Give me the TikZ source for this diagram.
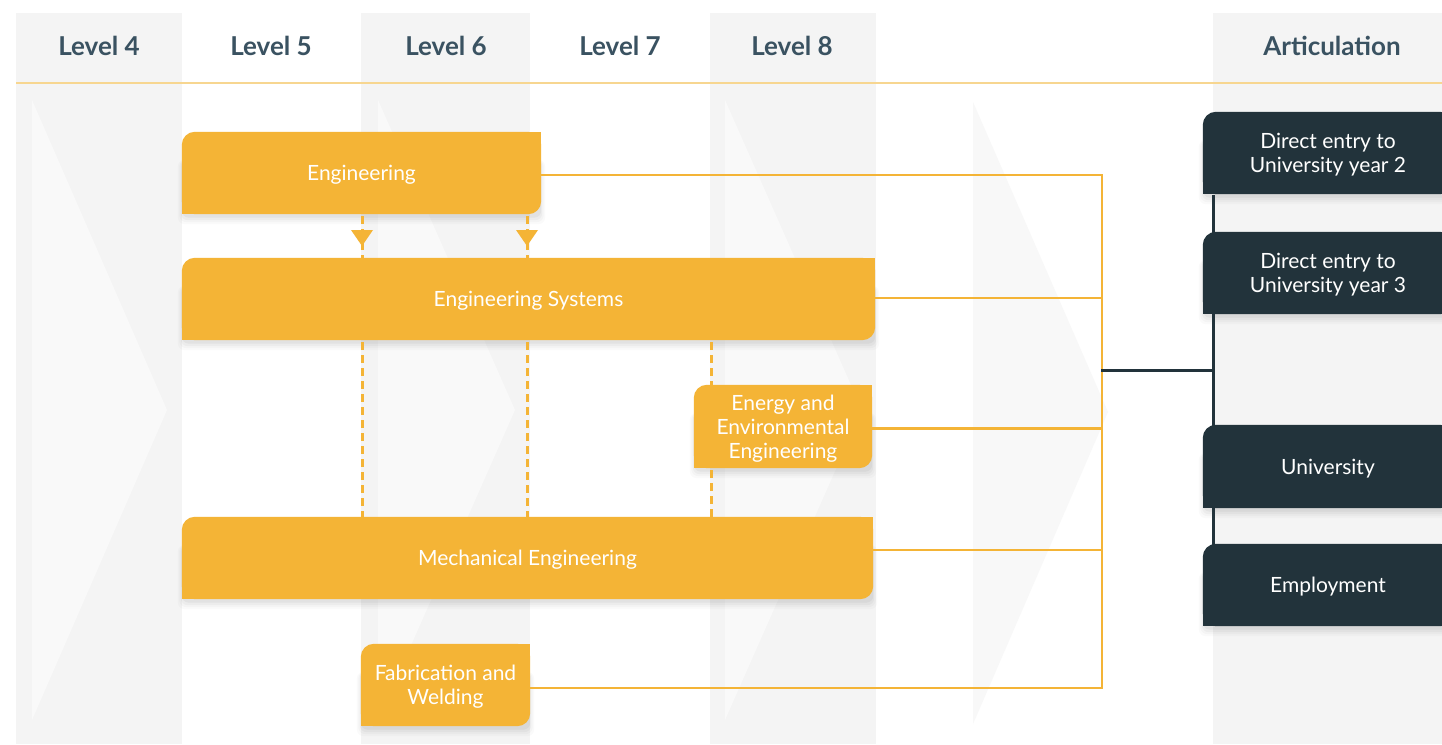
\documentclass[tikz,border=0pt]{standalone}
\usepackage{fontspec}
\setmainfont{Lato}
\usetikzlibrary{calc,decorations.markings}
\definecolor{ycol}{HTML}{F4B436}
\definecolor{dcol}{HTML}{22333B}
\definecolor{band}{HTML}{F4F4F4}
\definecolor{chev}{HTML}{F9F9F9}
\definecolor{chevw}{HTML}{F8F8F8}
\definecolor{hcol}{HTML}{3A5261}
\definecolor{hline}{HTML}{F7D690}
\pgfdeclarelayer{back}
\pgfdeclarelayer{boxes}
\pgfsetlayers{back,boxes,main}
% box: top-left and bottom-right corners rounded, the other two square;
% the box sits 2px above the node so that the text is 2px below its centre
\newcommand\boxfill[2]{%
  \fill[#2, rounded corners=13pt] ($(#1.south west)+(0pt,2pt)$) rectangle ($(#1.north east)+(0pt,2pt)$);
  \fill[#2] ($(#1.south west)+(0pt,2pt)$) rectangle ($(#1.south west)+(16pt,18pt)$);
  \fill[#2] ($(#1.north east)+(0pt,2pt)$) rectangle ($(#1.north east)+(-16pt,-14pt)$);}
\newcommand\shadowfill[4]{% node, grow, drop, opacity
  \fill[black, opacity=#4, rounded corners=7pt] ($(#1.north west)+(-#2,-26pt)$) rectangle ($(#1.south east)+(#2,2pt-#3)$);}
\newcommand\boxshape[2]{%
  \begin{pgfonlayer}{boxes}
  \shadowfill{#1}{4pt}{10pt}{0.018}
  \shadowfill{#1}{2.5pt}{8pt}{0.025}
  \shadowfill{#1}{1pt}{6pt}{0.03}
  \shadowfill{#1}{0pt}{3.5pt}{0.04}
  \boxfill{#1}{#2}
  \end{pgfonlayer}}
\tikzset{
  boxtext/.style={text=white, font=\fontsize{21}{24}\selectfont, align=center, inner sep=0pt},
  hdr/.style={text=hcol, font=\fontsize{26}{30}\selectfont\bfseries, anchor=base},
  yline/.style={ycol, line width=2.6pt, line cap=rect},
  dline/.style={dcol, line width=3pt, line cap=rect},
  dashline/.style={ycol, line width=3pt, dash pattern=on 8pt off 5pt},
  midarrow/.style={postaction={decorate}, decoration={markings,
    mark=at position 0.5 with {\fill[ycol] (8pt,0pt) -- (-8pt,11pt) -- (-8pt,-11pt) -- cycle;}}}
}
\begin{document}
\begin{tikzpicture}[x=1pt,y=-1pt]
\useasboundingbox (0,0) rectangle (1442,744);
\begin{pgfonlayer}{back}
  \fill[white] (0,0) rectangle (1442,744);
  \fill[band] (16,13) rectangle (182,744);
  \fill[band] (361,13) rectangle (530,744);
  \fill[band] (710,13) rectangle (876,744);
  \fill[band] (1213,13) rectangle (1442,744);
  \fill[chev] (32,100) -- (167,410) -- (32,720) -- cycle;
  \fill[chev] (378,100) -- (515,410) -- (378,720) -- cycle;
  \fill[chev] (725,100) -- (862,410) -- (725,720) -- cycle;
  \fill[chevw] (973,102) -- (1108,412) -- (973,724) -- cycle;
  \draw[hline, line width=1.2pt] (16,83) -- (1442,83);
\end{pgfonlayer}
% headers
\node[hdr] (h4) at (99,55) {Level 4};
\node[hdr] (h5) at (271,55) {Level 5};
\node[hdr] (h6) at (446,55) {Level 6};
\node[hdr] (h7) at (620,55) {Level 7};
\node[hdr] (h8) at (792,55) {Level 8};
\node[hdr] (ha) at (1332,55) {Articulation};
% yellow boxes
\node[boxtext, minimum width=359pt, minimum height=82pt] (eng) at (361.5,175) {Engineering};
\node[boxtext, minimum width=693pt, minimum height=82pt] (sys) at (528.5,301) {Engineering Systems};
\node[boxtext, minimum width=178pt, minimum height=83pt] (ene) at (783,428.5) {Energy and\\Environmental\\Engineering};
\node[boxtext, minimum width=691pt, minimum height=82pt] (mech) at (527.5,560) {Mechanical Engineering};
\node[boxtext, minimum width=169pt, minimum height=82pt] (fab) at (445.5,687) {Fabrication and\\Welding};
\boxshape{eng}{ycol}
\boxshape{sys}{ycol}
\boxshape{ene}{ycol}
\boxshape{mech}{ycol}
\boxshape{fab}{ycol}
% dark boxes
\node[boxtext, minimum width=250pt, minimum height=82pt] (u2) at (1328,155) {Direct entry to\\University year 2};
\node[boxtext, minimum width=250pt, minimum height=82pt] (u3) at (1328,275) {Direct entry to\\University year 3};
\node[boxtext, minimum width=250pt, minimum height=83pt] (uni) at (1328,468.5) {University};
\node[boxtext, minimum width=250pt, minimum height=82pt] (emp) at (1328,587) {Employment};
\boxshape{u2}{dcol}
\boxshape{u3}{dcol}
\boxshape{uni}{dcol}
\boxshape{emp}{dcol}
% columns of dashed links
\coordinate (c1) at (362,0);
\coordinate (c2) at (527,0);
\coordinate (c3) at (711,0);
\draw[dashline, midarrow] (eng.south -| c1) -- (sys.north -| c1);
\draw[dashline, midarrow] (eng.south -| c2) -- (sys.north -| c2);
\draw[dashline] (sys.south -| c1) -- (mech.north -| c1);
\draw[dashline] (sys.south -| c2) -- (mech.north -| c2);
\draw[dashline] (sys.south -| c3) -- (ene.north -| c3);
\draw[dashline] (ene.south -| c3) -- (mech.north -| c3);
% yellow bus
\coordinate (bus) at (1102,370);
\draw[yline] (eng.east) -- (eng.east -| bus);
\draw[yline] ([yshift=3pt]sys.east) -- ([yshift=3pt]sys.east -| bus);
\draw[yline] (ene.east) -- (ene.east -| bus);
\draw[yline] ([yshift=10pt]mech.east) -- ([yshift=10pt]mech.east -| bus);
\draw[yline] ([yshift=-1pt]fab.east) -- ([yshift=-1pt]fab.east -| bus);
\draw[yline] (eng.east -| bus) -- ([yshift=-1pt]fab.east -| bus);
% dark links
\coordinate (dj) at (1213,370);
\draw[dline] (bus) -- (dj);
\draw[dline] (u2.south -| dj) -- (emp.north -| dj);
\end{tikzpicture}
\end{document}
